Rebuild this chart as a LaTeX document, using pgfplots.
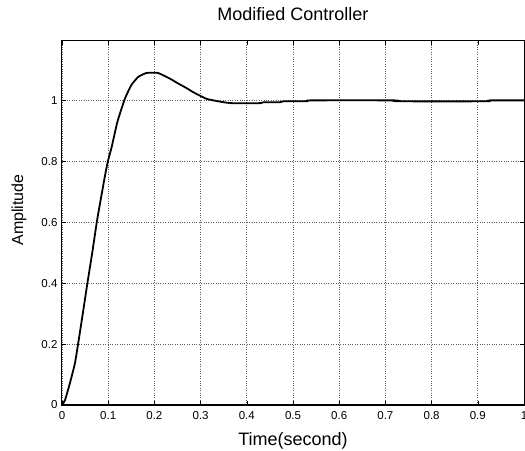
\documentclass[border=0pt]{standalone}
\usepackage{fontspec}
\setmainfont{Liberation Sans}
\usepackage{pgfplots}
\pgfplotsset{compat=1.18}
\begin{document}
\begin{tikzpicture}[x=1pt,y=1pt]
\path[use as bounding box] (0,0) rectangle (525,450);
\begin{axis}[
  at={(62pt,45pt)}, anchor=south west,
  scale only axis, width=462pt, height=364pt,
  xmin=0, xmax=1, ymin=0, ymax=1.195,
  xtick={0,0.1,...,1.0},
  xticklabels={0,0.1,0.2,0.3,0.4,0.5,0.6,0.7,0.8,0.9,1},
  ytick={0,0.2,0.4,0.6,0.8,1},
  yticklabels={0,0.2,0.4,0.6,0.8,1},
  tick align=inside, major tick length=4pt,
  tick style={black, line width=0.6pt},
  axis line style={line width=1pt},
  grid=major,
  major grid style={dotted, black!65, line width=0.7pt},
  /pgf/number format/assume math mode=true,
  ticklabel style={font=\fontsize{11.5}{13}\selectfont},
  xticklabel style={yshift=-3pt},
  yticklabel style={xshift=-1pt},
  title={Modified Controller},
  title style={font=\fontsize{18}{20}\selectfont, at={(0.5,1)}, anchor=base, yshift=14pt},
  xlabel={Time(second)},
  xlabel style={font=\fontsize{18}{20}\selectfont, at={(0.5,0)}, anchor=base, yshift=-40pt},
  ylabel={Amplitude},
  ylabel style={font=\fontsize{16}{18}\selectfont, at={(-0.093,0.536)}, anchor=center},
]
\addplot[black, line width=1.8pt, smooth, tension=0.3] coordinates {
(0,0)
(0.0065,0.016)
(0.017,0.071)
(0.028,0.137)
(0.035,0.202)
(0.045,0.30)
(0.055,0.400)
(0.066,0.505)
(0.076,0.607)
(0.092,0.744)
(0.099,0.798)
(0.1075,0.847)
(0.12,0.93)
(0.136,1.005)
(0.15,1.05)
(0.165,1.077)
(0.183,1.090)
(0.208,1.090)
(0.234,1.071)
(0.252,1.055)
(0.27,1.04)
(0.284,1.027)
(0.313,1.005)
(0.346,0.995)
(0.367,0.991)
(0.429,0.991)
(0.436,0.994)
(0.472,0.994)
(0.479,0.997)
(0.53,0.997)
(0.537,1.0)
(0.72,1.0)
(0.728,0.997)
(0.919,0.997)
(0.926,1.0)
(1,1.0)
};
\end{axis}
\end{tikzpicture}
\end{document}
